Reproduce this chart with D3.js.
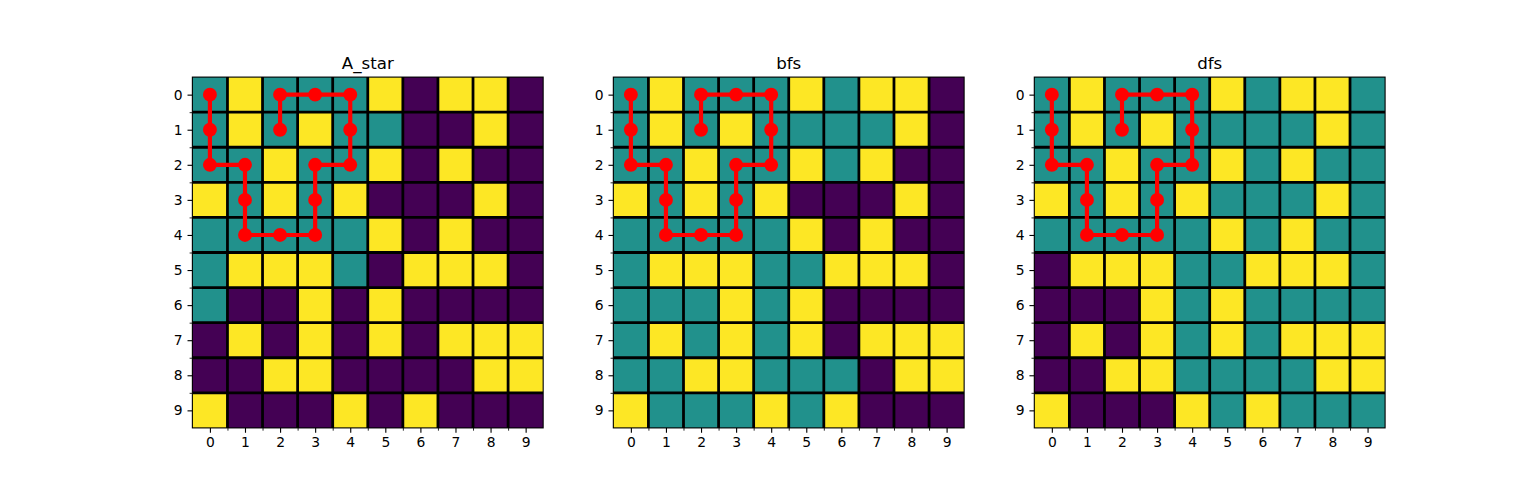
<!DOCTYPE html>
<html>
<head>
<meta charset="utf-8">
<script src="https://cdn.jsdelivr.net/npm/d3@7"></script>
<style>
  html, body { margin: 0; padding: 0; background: #ffffff; }
  svg { display: block; }
  text { font-family: "DejaVu Sans", sans-serif; fill: #000; }
</style>
</head>
<body>
<svg id="chart" width="1539" height="500"></svg>
<script>
// 0 = purple, 1 = teal, 2 = yellow (viridis scale)
const titles = ["A_star", "bfs", "dfs"];
const tickLabels = ["0","1","2","3","4","5","6","7","8","9"];

const aStarGrid = [
  [1,2,1,1,1,2,0,2,2,0],
  [1,2,1,2,1,1,0,0,2,0],
  [1,1,2,1,1,2,0,2,0,0],
  [2,1,2,1,2,0,0,0,2,0],
  [1,1,1,1,1,2,0,2,0,0],
  [1,2,2,2,1,0,2,2,2,0],
  [1,0,0,2,0,2,0,0,0,0],
  [0,2,0,2,0,2,0,2,2,2],
  [0,0,2,2,0,0,0,0,2,2],
  [2,0,0,0,2,0,2,0,0,0]
];
const bfsGrid = [
  [1,2,1,1,1,2,1,2,2,0],
  [1,2,1,2,1,1,1,1,2,0],
  [1,1,2,1,1,2,1,2,0,0],
  [2,1,2,1,2,0,0,0,2,0],
  [1,1,1,1,1,2,0,2,0,0],
  [1,2,2,2,1,1,2,2,2,0],
  [1,1,1,2,1,2,0,0,0,0],
  [1,2,1,2,1,2,0,2,2,2],
  [1,1,2,2,1,1,1,0,2,2],
  [2,1,1,1,2,1,2,0,0,0]
];
const dfsGrid = [
  [1,2,1,1,1,2,1,2,2,1],
  [1,2,1,2,1,1,1,1,2,1],
  [1,1,2,1,1,2,1,2,1,1],
  [2,1,2,1,2,1,1,1,2,1],
  [1,1,1,1,1,2,1,2,1,1],
  [0,2,2,2,1,1,2,2,2,1],
  [0,0,0,2,1,2,1,1,1,1],
  [0,2,0,2,1,2,1,2,2,2],
  [0,0,2,2,1,1,1,1,2,2],
  [2,0,0,0,2,1,2,1,1,1]
];
const grids = [aStarGrid, bfsGrid, dfsGrid];

// path (row, col) — same for all panels
const pathRows = [0,1,2,2,3,4,4,4,3,2,2,1,0,0,0,1];
const pathCols = [0,0,0,1,1,1,2,3,3,3,4,4,4,3,2,2];

const svg = d3.select("#chart");
const W = 1539, H = 500;
const figLeft = 0.125 * W, figRight = 0.9 * W;
const figBottom = (1 - 0.11) * H, figTop = (1 - 0.88) * H;
const axW = (figRight - figLeft) / (3 + 0.2 * 2);
const axH = axW;
const centerY = (figTop + figBottom) / 2;
const axTop = centerY - axH / 2;

const color = v => d3.interpolateViridis(v / 2);
const px = pt => pt * 100 / 72;

const defs = svg.append("defs");

grids.forEach((grid, gi) => {
  const x0 = figLeft + gi * axW * 1.2;
  const g = svg.append("g").attr("transform", `translate(${x0},${axTop})`);

  const x = d3.scaleLinear().domain([-0.5, 9.5]).range([0, axW]);
  const y = d3.scaleLinear().domain([-0.5, 9.5]).range([0, axH]);

  const clipId = "clip" + gi;
  defs.append("clipPath").attr("id", clipId)
    .append("rect").attr("x", 0).attr("y", 0).attr("width", axW).attr("height", axH);

  const cells = [];
  grid.forEach((row, r) => row.forEach((v, c) => cells.push({r, c, v})));

  g.append("g").selectAll("rect").data(cells).join("rect")
    .attr("x", d => x(d.c - 0.5))
    .attr("y", d => y(d.r - 0.5))
    .attr("width", x(1) - x(0) + 0.3)
    .attr("height", y(1) - y(0) + 0.3)
    .attr("fill", d => color(d.v))
    .attr("shape-rendering", "crispEdges");

  const minors = d3.range(0.5, 9, 1);
  const gridG = g.append("g").attr("clip-path", `url(#${clipId})`);
  gridG.selectAll("line.v").data(minors).join("line")
    .attr("x1", d => x(d)).attr("x2", d => x(d))
    .attr("y1", 0).attr("y2", axH)
    .attr("stroke", "#000").attr("stroke-width", px(2));
  gridG.selectAll("line.h").data(minors).join("line")
    .attr("y1", d => y(d)).attr("y2", d => y(d))
    .attr("x1", 0).attr("x2", axW)
    .attr("stroke", "#000").attr("stroke-width", px(2));

  // path
  const pts = pathRows.map((r, i) => [pathCols[i], r]);
  const line = d3.line().x(d => x(d[0])).y(d => y(d[1]));
  g.append("path").datum(pts)
    .attr("d", line)
    .attr("fill", "none")
    .attr("stroke", "#ff0000")
    .attr("stroke-width", px(3))
    .attr("stroke-linejoin", "round");
  g.append("g").selectAll("circle").data(pts).join("circle")
    .attr("cx", d => x(d[0])).attr("cy", d => y(d[1]))
    .attr("r", px(10) / 2)
    .attr("fill", "#ff0000");

  // spines
  g.append("rect").attr("x", 0).attr("y", 0).attr("width", axW).attr("height", axH)
    .attr("fill", "none").attr("stroke", "#000").attr("stroke-width", px(0.8));

  // axes
  const majorLen = px(3.5), pad = px(3.5);
  const xAxis = d3.axisBottom(x).tickValues(d3.range(10)).tickFormat((d, i) => tickLabels[i])
    .tickSize(majorLen).tickPadding(pad);
  const yAxis = d3.axisLeft(y).tickValues(d3.range(10)).tickFormat((d, i) => tickLabels[i])
    .tickSize(majorLen).tickPadding(pad);

  const xg = g.append("g").attr("transform", `translate(0,${axH})`).call(xAxis);
  const yg = g.append("g").call(yAxis);
  [xg, yg].forEach(a => {
    a.select(".domain").remove();
    a.selectAll(".tick line").attr("stroke", "#000").attr("stroke-width", px(0.8));
    a.selectAll(".tick text").attr("font-size", px(10)).attr("font-family", "DejaVu Sans").attr("fill", "#000");
  });

  // minor ticks
  const minorLen = px(2);
  const xm = d3.axisBottom(x).tickValues(minors).tickFormat("").tickSize(minorLen);
  const ym = d3.axisLeft(y).tickValues(minors).tickFormat("").tickSize(minorLen);
  const xmg = g.append("g").attr("transform", `translate(0,${axH})`).call(xm);
  const ymg = g.append("g").call(ym);
  [xmg, ymg].forEach(a => {
    a.select(".domain").remove();
    a.selectAll(".tick line").attr("stroke", "#000").attr("stroke-width", px(0.6));
  });

  // title
  g.append("text")
    .attr("x", axW / 2).attr("y", -px(6))
    .attr("text-anchor", "middle")
    .attr("font-size", px(12))
    .text(titles[gi]);
});
</script>
</body>
</html>
